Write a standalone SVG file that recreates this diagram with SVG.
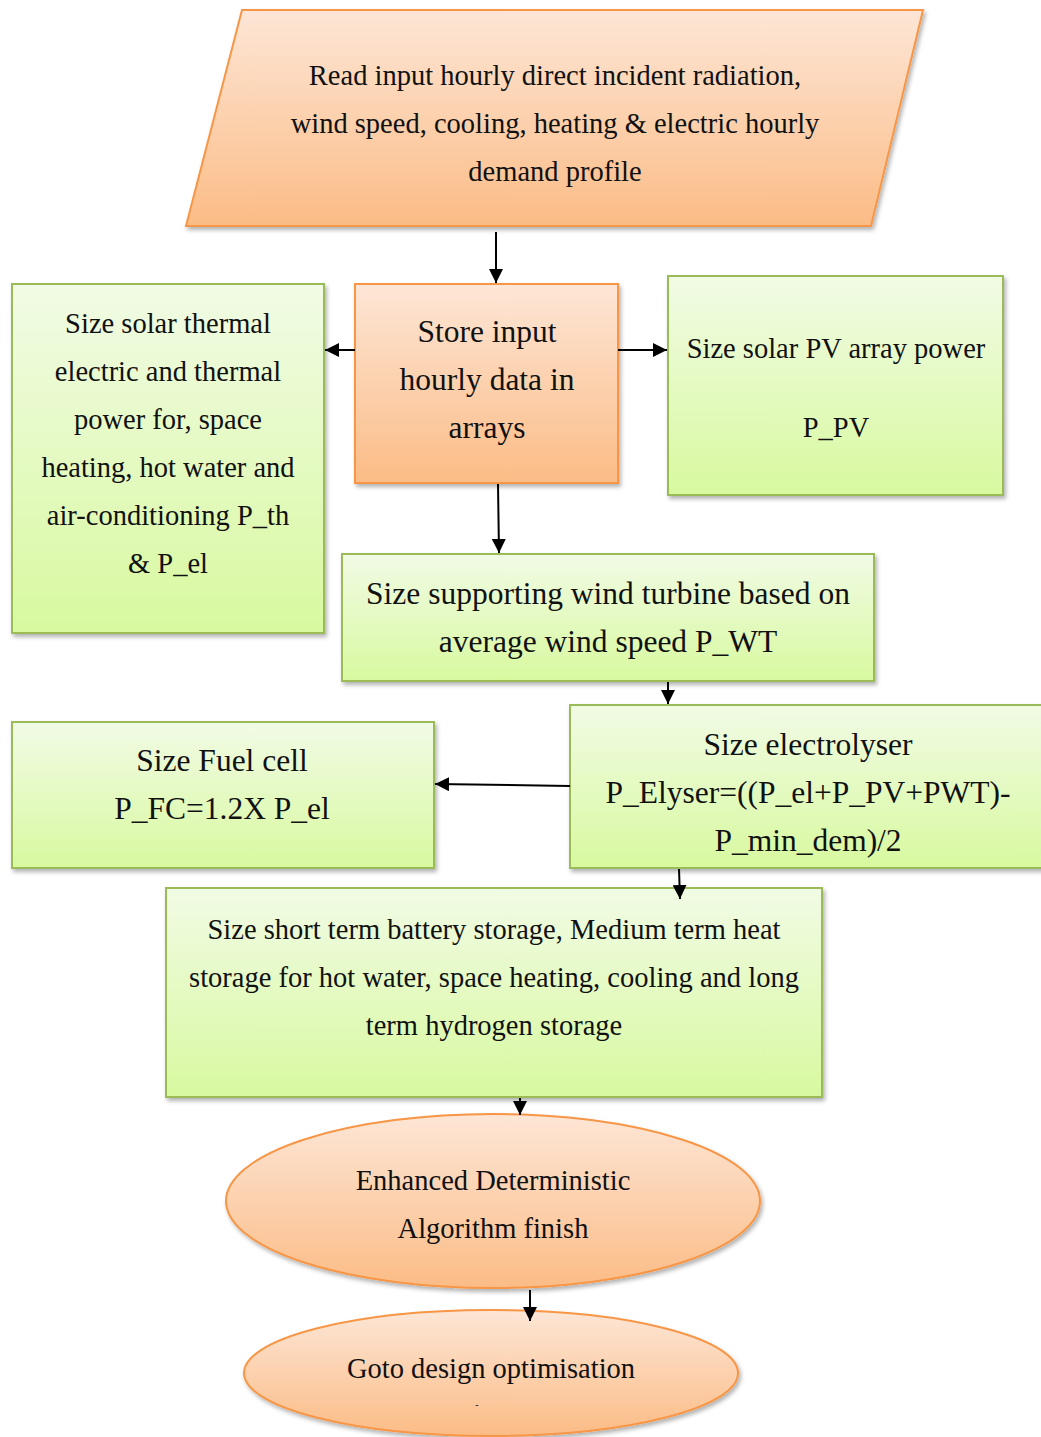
<svg xmlns="http://www.w3.org/2000/svg" width="1041" height="1437" viewBox="0 0 1041 1437">
<defs>
<linearGradient id="gOr" x1="0" y1="0" x2="0" y2="1"><stop offset="0" stop-color="#fde6d6"/><stop offset="1" stop-color="#fbbc86"/></linearGradient>
<linearGradient id="gGr" x1="0" y1="0" x2="0" y2="1"><stop offset="0" stop-color="#f1fbe5"/><stop offset="1" stop-color="#d8f99f"/></linearGradient>
<filter id="sh" x="-10%" y="-10%" width="125%" height="130%"><feDropShadow dx="2" dy="3" stdDeviation="2" flood-color="#000" flood-opacity="0.3"/></filter>
<marker id="ah" viewBox="0 0 10 10" refX="10" refY="5" markerWidth="14" markerHeight="14" markerUnits="userSpaceOnUse" orient="auto"><path d="M0,0 L10,5 L0,10 z" fill="#000"/></marker>
</defs>
<style>
.or{fill:url(#gOr);stroke:#f79646;stroke-width:2;filter:url(#sh)}
.gr{fill:url(#gGr);stroke:#9bbb59;stroke-width:2;filter:url(#sh)}
text{font-family:"Liberation Serif","DejaVu Serif",serif;font-size:28.5px;fill:#111;text-anchor:middle}
.big{font-size:31.5px}
.cn line{stroke:#000;stroke-width:2;marker-end:url(#ah)}
</style>
<g id="n1"><polygon class="or" points="242,10 923,10 871,226 186,226"/>
<text x="555" y="85">Read input hourly direct incident radiation,</text>
<text x="555" y="133">wind speed, cooling, heating &amp; electric hourly</text>
<text x="555" y="181">demand profile</text></g>
<g id="n2"><rect class="or" x="355" y="284" width="263" height="199"/>
<text class="big" x="487" y="342">Store input</text>
<text class="big" x="487" y="390">hourly data in</text>
<text class="big" x="487" y="438">arrays</text></g>
<g id="n3"><rect class="gr" x="12" y="284" width="312" height="349"/>
<text x="168" y="333">Size solar thermal</text>
<text x="168" y="381">electric and thermal</text>
<text x="168" y="429">power for, space</text>
<text x="168" y="477">heating, hot water and</text>
<text x="168" y="525">air-conditioning P_th</text>
<text x="168" y="573">&amp; P_el</text></g>
<g id="n4"><rect class="gr" x="668" y="276" width="335" height="219"/>
<text x="836" y="358">Size solar PV array power</text>
<text x="836" y="437">P_PV</text></g>
<g id="n5"><rect class="gr" x="342" y="554" width="532" height="127"/>
<text class="big" x="608" y="604">Size supporting wind turbine based on</text>
<text class="big" x="608" y="652">average wind speed P_WT</text></g>
<g id="n6"><rect class="gr" x="570" y="705" width="475" height="163"/>
<text class="big" x="808" y="755">Size electrolyser</text>
<text class="big" x="808" y="803">P_Elyser=((P_el+P_PV+PWT)-</text>
<text class="big" x="808" y="851">P_min_dem)/2</text></g>
<g id="n7"><rect class="gr" x="12" y="722" width="422" height="146"/>
<text class="big" x="222" y="771">Size Fuel cell</text>
<text class="big" x="222" y="819">P_FC=1.2X P_el</text></g>
<g id="n8"><rect class="gr" x="166" y="888" width="656" height="209"/>
<text x="494" y="939">Size short term battery storage, Medium term heat</text>
<text x="494" y="987">storage for hot water, space heating, cooling and long</text>
<text x="494" y="1035">term hydrogen storage</text></g>
<g id="n9"><ellipse class="or" cx="493" cy="1201" rx="267" ry="87"/>
<text x="493" y="1190">Enhanced Deterministic</text>
<text x="493" y="1238">Algorithm finish</text></g>
<g id="n10"><ellipse class="or" cx="491" cy="1373" rx="247" ry="63"/>
<text x="491" y="1378">Goto design optimisation</text>
<text x="477" y="1408" style="font-size:10px">-</text></g>
<g class="cn" id="connectors">
<line x1="496" y1="232" x2="496" y2="283"/>
<line x1="355" y1="350" x2="325" y2="350"/>
<line x1="618" y1="350" x2="667" y2="350"/>
<line x1="498" y1="484" x2="499" y2="553"/>
<line x1="668" y1="682" x2="668" y2="704"/>
<line x1="570" y1="786" x2="435" y2="784"/>
<line x1="679" y1="869" x2="680" y2="899"/>
<line x1="520" y1="1098" x2="520" y2="1115"/>
<line x1="530" y1="1290" x2="530" y2="1321"/>
</g>
</svg>
